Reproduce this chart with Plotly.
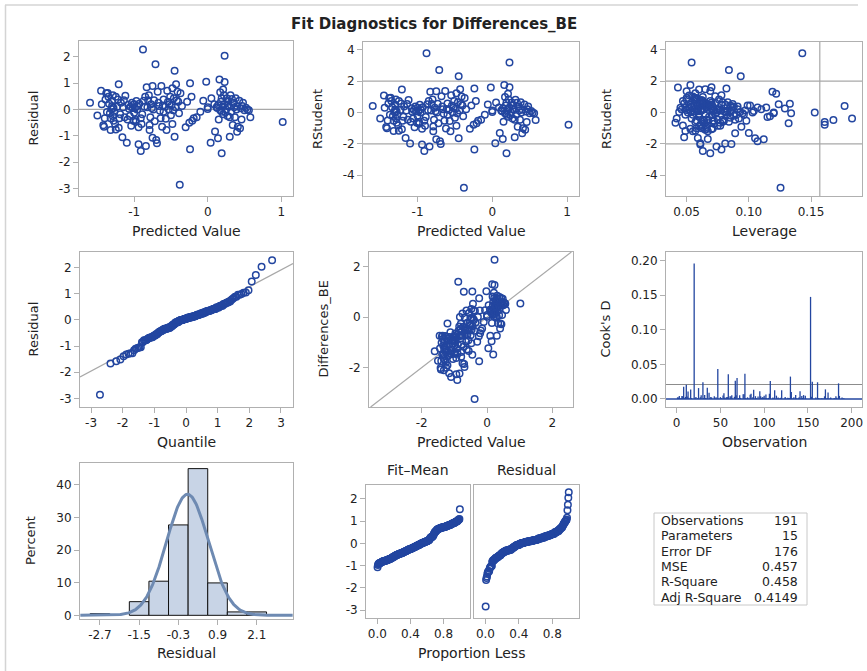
import numpy as np
import plotly.graph_objects as go
from statistics import NormalDist

# ---------------- data ----------------
predicted = [
    -1.60, -1.50, -1.45, -1.44, -1.40, -1.41, -1.42, -1.39, -1.38, -1.36,
    -1.35, -1.33, -1.32, -1.32, -1.31, -1.30, -1.30, -1.29, -1.29, -1.28,
    -1.27, -1.25, -1.25, -1.23, -1.22, -1.21, -1.21, -1.20, -1.18, -1.16,
    -1.15, -1.13, -1.12, -1.10, -1.09, -1.07, -1.05, -1.04, -1.03, -1.01,
    -1.00, -1.00, -0.99, -0.98, -0.97, -0.96, -0.94, -0.94, -0.91, -0.91,
    -0.89, -0.88, -0.87, -0.85, -0.84, -0.83, -0.82, -0.80, -0.79, -0.79,
    -0.77, -0.75, -0.75, -0.74, -0.73, -0.71, -0.70, -0.69, -0.68, -0.66,
    -0.64, -0.63, -0.62, -0.60, -0.60, -0.58, -0.56, -0.55, -0.54, -0.53,
    -0.51, -0.50, -0.49, -0.48, -0.47, -0.46, -0.45, -0.45, -0.44, -0.43,
    -0.41, -0.40, -0.39, -0.38, -0.37, -0.35, -0.30, -0.28, -0.25, -0.24,
    -0.24, -0.22, -0.21, -0.19, -0.15, -0.10, -0.06, -0.02, 0.00, 0.00,
    0.04, 0.05, 0.09, 0.10, 0.12, 0.14, 0.14, 0.15, 0.16, 0.17,
    0.18, 0.19, 0.19, 0.19, 0.20, 0.21, 0.21, 0.22, 0.23, 0.23,
    0.23, 0.25, 0.26, 0.27, 0.28, 0.29, 0.30, 0.30, 0.31, 0.32,
    0.34, 0.35, 0.36, 0.37, 0.38, 0.40, 0.40, 0.41, 0.43, 0.44,
    0.45, 0.46, 0.47, 0.50, 0.52, 0.54, 0.56, 0.58, 1.02, -1.37,
    -1.34, -1.28, -1.26, -1.19, -1.14, -1.08, -1.06, -1.02, -0.98, -0.96,
    -0.93, -0.90, -0.86, -0.81, -0.78, -0.76, -0.72, -0.67, -0.65, -0.61,
    -0.57, -0.52, -0.48, -0.42, 0.13, 0.17, 0.24, 0.27, 0.33, 0.39,
    0.48,
]

residual = [
    0.25, -0.23, 0.71, 0.20, -0.34, -0.66, -0.60, 0.38, 0.61, 0.62,
    0.48, -0.15, -0.34, -0.78, 0.02, 0.13, 0.32, 0.54, -0.25, -0.43,
    -0.09, 0.48, -0.76, 0.10, 0.38, 0.96, -0.70, -0.34, 0.25, -1.06,
    0.08, -0.30, 0.52, -1.27, -0.38, 0.03, 0.10, -0.62, 0.25, -0.43,
    0.20, -0.13, 0.04, -0.47, 0.32, 0.13, -1.32, -0.68, -1.58, -0.34,
    -0.18, 2.28, 0.33, 0.48, -1.39, 0.84, 0.08, 0.54, -0.59, -0.78,
    0.20, -1.08, 0.89, 0.00, 0.35, 1.72, -1.16, -1.29, 0.67, 0.13,
    -0.34, 0.89, -0.66, 0.38, -0.09, 0.10, -0.78, 0.71, 0.29, 0.00,
    0.48, -0.22, 0.16, 0.80, -0.03, 0.42, 1.47, -1.04, 0.08, 0.96,
    0.67, 0.29, -0.15, -2.86, 0.61, 0.13, -0.68, 0.29, -0.51, 0.99,
    -1.51, 0.48, -0.43, -0.34, -0.30, -0.09, 0.33, 1.05, 0.08, 0.02,
    -1.27, 0.42, 0.20, -0.84, 0.08, -1.10, 0.16, -0.38, 1.14, -0.03,
    0.29, -1.67, 0.42, -0.09, 0.10, 0.76, -0.18, 0.54, 2.04, 1.04,
    0.20, 0.00, 0.42, -0.25, 0.29, 0.10, -1.04, -0.30, 0.54, -0.09,
    -0.59, 0.25, 0.08, -0.30, 0.42, -0.85, 0.13, -0.66, 0.33, -0.72,
    0.04, -0.38, 0.13, -0.03, 0.06, 0.00, -0.03, -0.30, -0.48, -0.10,
    0.22, 0.05, -0.55, -0.18, 0.35, 0.18, -0.25, 0.05, -0.40, 0.00,
    0.22, -0.55, 0.10, 0.35, -0.30, 0.05, -0.45, 0.25, -0.05, 0.15,
    -0.35, 0.20, -0.55, 0.35, 0.05, 0.65, -0.10, 0.15, 0.40, 0.00,
    0.25,
]

leverage = [
    0.177, 0.183, 0.052, 0.045, 0.058, 0.062, 0.066, 0.048, 0.050, 0.056,
    0.047, 0.060, 0.064, 0.049, 0.044, 0.046, 0.053, 0.058, 0.042, 0.041,
    0.055, 0.061, 0.057, 0.050, 0.063, 0.060, 0.070, 0.067, 0.054, 0.059,
    0.072, 0.075, 0.062, 0.081, 0.079, 0.085, 0.068, 0.063, 0.071, 0.077,
    0.066, 0.088, 0.058, 0.072, 0.078, 0.064, 0.061, 0.066, 0.063, 0.098,
    0.115, 0.143, 0.124, 0.069, 0.074, 0.119, 0.083, 0.076, 0.060, 0.055,
    0.087, 0.112, 0.050, 0.120, 0.133, 0.084, 0.107, 0.086, 0.073, 0.091,
    0.080, 0.069, 0.071, 0.065, 0.082, 0.059, 0.067, 0.078, 0.101, 0.074,
    0.063, 0.085, 0.070, 0.057, 0.134, 0.079, 0.0935, 0.105, 0.062, 0.065,
    0.055, 0.068, 0.117, 0.1255, 0.058, 0.076, 0.053, 0.099, 0.061, 0.082,
    0.078, 0.056, 0.132, 0.072, 0.089, 0.096, 0.081, 0.043, 0.086, 0.093,
    0.061, 0.070, 0.107, 0.100, 0.077, 0.067, 0.129, 0.084, 0.053, 0.073,
    0.066, 0.069, 0.060, 0.090, 0.075, 0.122, 0.068, 0.057, 0.054, 0.070,
    0.114, 0.103, 0.064, 0.092, 0.085, 0.062, 0.048, 0.079, 0.050, 0.071,
    0.094, 0.088, 0.097, 0.063, 0.083, 0.089, 0.074, 0.058, 0.069, 0.065,
    0.081, 0.161, 0.110, 0.095, 0.104, 0.153, 0.120, 0.168, 0.161, 0.049,
    0.052, 0.056, 0.047, 0.060, 0.065, 0.059, 0.054, 0.061, 0.057, 0.051,
    0.067, 0.075, 0.058, 0.062, 0.066, 0.053, 0.064, 0.056, 0.060, 0.052,
    0.071, 0.049, 0.077, 0.087, 0.080, 0.063, 0.070, 0.059, 0.073, 0.082,
    0.091,
]

observation = [
    1, 2, 3, 4, 5, 6, 7, 9, 10, 12,
    14, 15, 17, 114, 18, 19, 21, 22, 23, 24,
    26, 27, 28, 29, 31, 37, 32, 33, 34, 13,
    36, 38, 39, 185, 40, 41, 42, 43, 44, 45,
    46, 48, 49, 50, 51, 52, 8, 53, 107, 55,
    56, 153, 57, 58, 30, 25, 60, 61, 62, 63,
    64, 161, 102, 65, 66, 47, 67, 155, 68, 70,
    71, 173, 72, 73, 74, 75, 76, 77, 79, 80,
    81, 82, 83, 84, 86, 87, 59, 11, 89, 131,
    90, 91, 92, 20, 93, 94, 96, 97, 98, 170,
    69, 99, 100, 101, 103, 104, 105, 106, 108, 109,
    35, 110, 111, 112, 113, 16, 115, 116, 95, 117,
    118, 130, 119, 121, 122, 88, 123, 124, 78, 120,
    125, 126, 127, 128, 129, 132, 54, 133, 134, 135,
    136, 137, 138, 139, 140, 141, 142, 143, 144, 145,
    146, 147, 148, 149, 150, 151, 152, 154, 85, 156,
    157, 158, 159, 160, 162, 163, 164, 165, 166, 167,
    168, 169, 171, 172, 174, 175, 176, 177, 178, 179,
    180, 181, 182, 183, 184, 186, 187, 188, 189, 190,
    191,
]

n_observations = 191
n_parameters = 15
mse_value = 0.457

stat_labels = ["Observations", "Parameters", "Error DF", "MSE", "R-Square", "Adj R-Square"]
stat_values = ["191", "15", "176", "0.457", "0.458", "0.4149"]

hist_bin_start, hist_bin_end, hist_bin_size = -3.0, 2.4, 0.6
hist_tickvals = [-2.7, -1.5, -0.3, 0.9, 2.1]
hist_ticktext = ["-2.7", "-1.5", "-0.3", "0.9", "2.1"]

# ---------------- derived diagnostics ----------------
pred = np.array(predicted)
res = np.array(residual)
lev = np.array(leverage)
obs = np.array(observation)
assert sorted(observation) == list(range(1, n_observations + 1))
n = len(pred)

actual = pred + res
dfe = n_observations - n_parameters
s2_del = (dfe * mse_value - res ** 2 / (1 - lev)) / (dfe - 1)
rstudent = res / np.sqrt(s2_del * (1 - lev))
cooks = res ** 2 / (n_parameters * mse_value) * lev / (1 - lev) ** 2

ranks = np.arange(1, n + 1)
nd = NormalDist()
quant = np.array([nd.inv_cdf((i - 0.375) / (n + 0.25)) for i in ranks])
res_sorted = np.sort(res)
mu, sd = res.mean(), res.std(ddof=1)

prop = (ranks - 0.5) / n
fit_mean = np.sort(pred - actual.mean())
res_spread = np.sort(res - res.mean())

# ---------------- styling ----------------
W, H = 867, 671
FONT = "DejaVu Sans"
BLUE = "#2346a0"
FRAME = "#b0b0b0"
REF = "#a8a8a8"
TXT = "#222222"


def dx(a, b):
    return [a / W, b / W]


def dy(top, bot):
    return [1 - bot / H, 1 - top / H]


def px(x):
    return x / W


def py(y):
    return 1 - y / H


def ticks_int(vals):
    return [str(v) if v >= 0 else "-" + str(-v) for v in vals]


marker = dict(symbol="circle-open", size=6.5, color=BLUE, line=dict(width=1.5, color=BLUE))

fig = go.Figure()


def scat(x, y, ax):
    fig.add_trace(go.Scatter(x=x, y=y, mode="markers", marker=marker,
                             xaxis="x" + ax, yaxis="y" + ax, hoverinfo="skip"))


# P1 residual vs predicted
scat(pred, res, "")
# P2 rstudent vs predicted
scat(pred, rstudent, "2")
# P3 rstudent vs leverage
scat(lev, rstudent, "3")
# P4 QQ
qx_range = [-3.35, 3.38]
fig.add_trace(go.Scatter(x=qx_range, y=[mu + sd * qx_range[0], mu + sd * qx_range[1]], mode="lines",
                         line=dict(color=REF, width=1.2), xaxis="x4", yaxis="y4", hoverinfo="skip"))
scat(quant, res_sorted, "4")
# P5 observed vs predicted
diag = [-3.56, 2.58]
fig.add_trace(go.Scatter(x=diag, y=diag, mode="lines", line=dict(color=REF, width=1.2),
                         xaxis="x5", yaxis="y5", hoverinfo="skip"))
scat(pred, actual, "5")
# P6 Cook's D needles
nx, ny = [], []
for o, d in zip(obs, cooks):
    nx += [o, o, None]
    ny += [0, d, None]
fig.add_trace(go.Scatter(x=[-12.2, 211.8], y=[0, 0], mode="lines", line=dict(color=BLUE, width=1.3),
                         xaxis="x6", yaxis="y6", hoverinfo="skip"))
fig.add_trace(go.Scatter(x=nx, y=ny, mode="lines", line=dict(color=BLUE, width=1.3),
                         xaxis="x6", yaxis="y6", hoverinfo="skip"))
# P7 histogram
fig.add_trace(go.Histogram(x=res, histnorm="percent",
                           xbins=dict(start=hist_bin_start, end=hist_bin_end, size=hist_bin_size),
                           marker=dict(color="#c8d4e6", line=dict(color="#111111", width=1)),
                           xaxis="x7", yaxis="y7", hoverinfo="skip"))
cx = np.linspace(-3.3, 3.2, 300)
cy = 100 * hist_bin_size * np.exp(-0.5 * ((cx - mu) / sd) ** 2) / (sd * np.sqrt(2 * np.pi))
fig.add_trace(go.Scatter(x=cx, y=cy, mode="lines", line=dict(color="#6e8ab2", width=3),
                         xaxis="x7", yaxis="y7", hoverinfo="skip"))
# P8 spread
scat(prop, fit_mean, "8")
scat(prop, res_spread, "9")

common = dict(showline=True, mirror=True, linecolor=FRAME, linewidth=1, ticks="outside",
              ticklen=5, tickcolor=FRAME, tickwidth=1, showgrid=False, zeroline=False,
              tickfont=dict(family=FONT, size=12, color=TXT), automargin=False, fixedrange=True)


def axis(domain, rng, tv, tt=None, anchor=None, **kw):
    d = dict(common)
    d.update(domain=domain, range=rng, tickmode="array", tickvals=tv,
             ticktext=tt if tt is not None else ticks_int(tv), anchor=anchor)
    d.update(kw)
    return d


fig.update_layout(
    xaxis=axis(dx(79, 293), [-1.75, 1.16], [-1, 0, 1], anchor="y"),
    yaxis=axis(dy(41, 196), [-3.29, 2.6], [-3, -2, -1, 0, 1, 2], anchor="x"),
    xaxis2=axis(dx(363, 579), [-1.73, 1.16], [-1, 0, 1], anchor="y2"),
    yaxis2=axis(dy(42, 196), [-5.32, 4.49], [-4, -2, 0, 2, 4], anchor="x2"),
    xaxis3=axis(dx(666, 862), [0.0334, 0.191], [0.05, 0.10, 0.15], ["0.05", "0.10", "0.15"], anchor="y3"),
    yaxis3=axis(dy(42, 196), [-5.32, 4.49], [-4, -2, 0, 2, 4], anchor="x3"),
    xaxis4=axis(dx(80, 293), qx_range, [-3, -2, -1, 0, 1, 2, 3], anchor="y4"),
    yaxis4=axis(dy(252, 407), [-3.33, 2.6], [-3, -2, -1, 0, 1, 2], anchor="x4"),
    xaxis5=axis(dx(369, 573), [-3.61, 2.63], [-2, 0, 2], anchor="y5"),
    yaxis5=axis(dy(252, 407), [-3.56, 2.58], [-2, 0, 2], anchor="x5"),
    xaxis6=axis(dx(666, 862), [-12.2, 211.8], [0, 50, 100, 150, 200], anchor="y6"),
    yaxis6=axis(dy(252, 407), [-0.0116, 0.2126], [0, 0.05, 0.10, 0.15, 0.20],
                ["0.00", "0.05", "0.10", "0.15", "0.20"], anchor="x6"),
    xaxis7=axis(dx(80, 293), [-3.31, 3.21], hist_tickvals, hist_ticktext, anchor="y7"),
    yaxis7=axis(dy(463, 619), [-1.13, 46.75], [0, 10, 20, 30, 40], anchor="x7"),
    xaxis8=axis(dx(366, 470), [-0.137, 1.12], [0, 0.4, 0.8], ["0.0", "0.4", "0.8"], anchor="y8"),
    yaxis8=axis(dy(485, 618), [-3.36, 2.63], [-3, -2, -1, 0, 1, 2], anchor="x8"),
    xaxis9=axis(dx(474, 579), [-0.137, 1.12], [0, 0.4, 0.8], ["0.0", "0.4", "0.8"], anchor="y9"),
    yaxis9=axis(dy(485, 618), [-3.36, 2.63], [-3, -2, -1, 0, 1, 2], anchor="x9",
                showticklabels=False, ticks=""),
    bargap=0,
)


def hline(ax, y, color=REF):
    return dict(type="line", xref=("x" + ax + " domain"), yref="y" + ax, x0=0, x1=1, y0=y, y1=y,
                line=dict(color=color, width=1.2), layer="below")


shapes = [
    hline("", 0),
    hline("2", 2), hline("2", -2),
    hline("3", 2), hline("3", -2),
    dict(type="line", xref="x3", yref="y3 domain", x0=2 * n_parameters / n_observations,
         x1=2 * n_parameters / n_observations, y0=0, y1=1, line=dict(color=REF, width=1.2), layer="below"),
    hline("6", 4 / n_observations, "#8c8c8c"),
    # outer frame
    dict(type="line", xref="paper", yref="paper", x0=px(5), x1=px(858), y0=py(5), y1=py(5),
         line=dict(color="#d4d4d4", width=1.5)),
    dict(type="line", xref="paper", yref="paper", x0=px(5.5), x1=px(5.5), y0=py(5), y1=0,
         line=dict(color="#d4d4d4", width=1.5)),
    # statistics table
    dict(type="rect", xref="paper", yref="paper", x0=px(654), x1=px(807), y0=py(605), y1=py(513),
         line=dict(color="#c8c8c8", width=1)),
]
fig.update_layout(shapes=shapes)

ann = []


def text(x, y, s, size=13, angle=0, xanchor="center", bold=False):
    ann.append(dict(x=px(x), y=py(y), xref="paper", yref="paper", text=("<b>%s</b>" % s) if bold else s,
                    showarrow=False, textangle=angle, xanchor=xanchor, yanchor="middle",
                    font=dict(family=FONT, size=size, color=TXT)))


text(434, 24, "Fit Diagnostics for Differences_BE", size=15, bold=True)
# x titles
XT = 14
text(186, 231, "Predicted Value", XT)
text(471, 231, "Predicted Value", XT)
text(764, 231, "Leverage", XT)
text(186.5, 442, "Quantile", XT)
text(471, 442, "Predicted Value", XT)
text(764, 442, "Observation", XT)
text(186.5, 653, "Residual", XT)
text(471, 653, "Proportion Less", XT)
# y titles
text(33, 118.5, "Residual", angle=-90)
text(317, 119, "RStudent", angle=-90)
text(606, 119, "RStudent", angle=-90)
text(33, 329.5, "Residual", angle=-90)
text(323, 329.5, "Differences_BE", angle=-90)
text(605, 329.5, "Cook's D", angle=-90)
text(30, 541, "Percent", angle=-90)
# spread panel headers
text(418, 470, "Fit\u2013Mean", XT)
text(526.5, 470, "Residual", XT)
# table
for i, (lab, val) in enumerate(zip(stat_labels, stat_values)):
    yy = 513 + 15.3 * (i + 0.5)
    text(659, yy, lab, size=12.5, xanchor="left")
    text(800, yy, val, size=12.5, xanchor="right")

fig.update_layout(annotations=ann, width=W, height=H, autosize=False,
                  margin=dict(l=0, r=0, t=0, b=0), showlegend=False,
                  paper_bgcolor="white", plot_bgcolor="white")

fig.write_html("out.html", config={"displayModeBar": False, "staticPlot": True},
               post_script="document.body.style.margin='0';document.body.style.overflow='hidden';")
